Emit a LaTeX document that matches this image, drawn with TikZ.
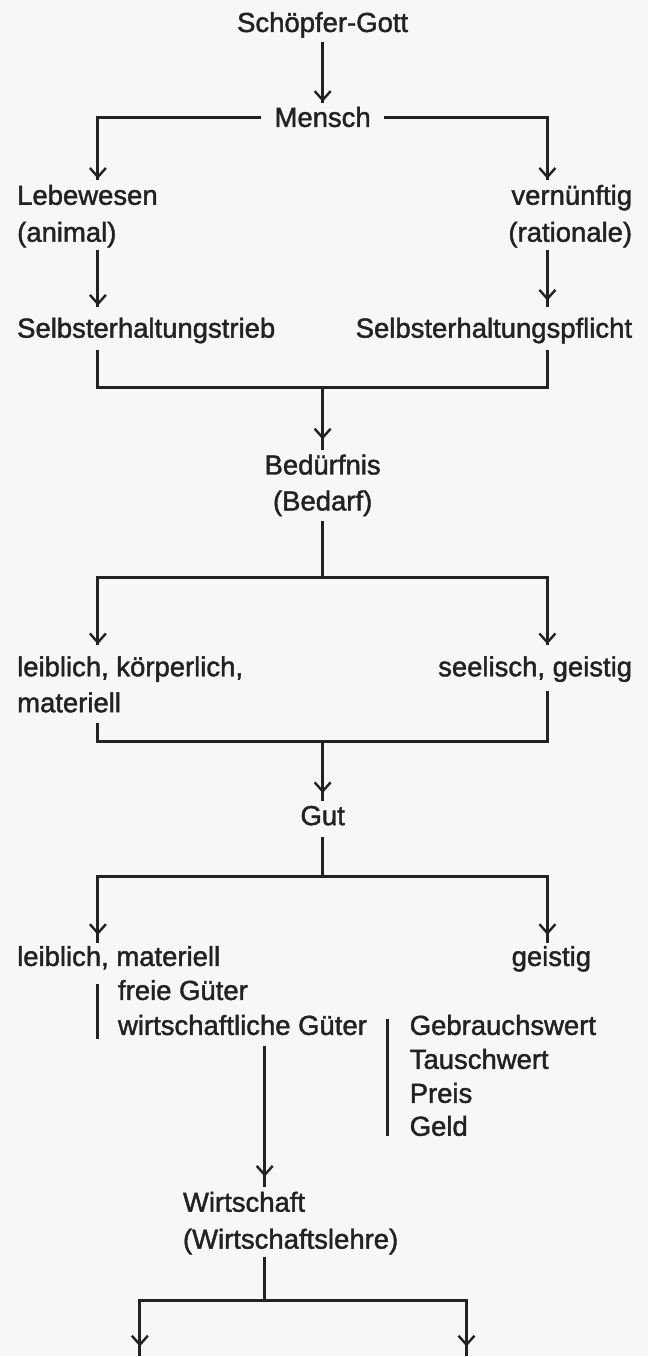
\documentclass[tikz,border=0pt]{standalone}
\usepackage{fontspec}
\setmainfont{Liberation Sans}[BoldFont={Liberation Sans}, BoldFeatures={FakeBold=1.6}]
\usetikzlibrary{arrows.meta,decorations.markings}
\definecolor{ink}{RGB}{34,34,34}
\definecolor{paper}{RGB}{247,247,245}
\begin{document}
\begin{tikzpicture}[x=1pt,y=-1pt,
  lbl/.style={inner sep=0pt, text=ink, font=\fontsize{27.5}{36}\selectfont\bfseries},
  ln/.style={color=ink, line width=3pt},
  arr/.style={ln, postaction={decorate},
    decoration={markings, mark=at position -#1 with {\arrow[line width=2.4pt]{Straight Barb[length=9pt,width=16pt]}}}},
  arr/.default=6pt,
]
\path[fill=paper] (0,0) rectangle (649,1357);

% texts
\node[lbl,anchor=base] (gott) at (323,32) {Schöpfer-Gott};
\node[lbl,anchor=base] (mensch) at (323,127) {Mensch};
\node[lbl,anchor=base west] (lebe) at (17,205) {Lebewesen};
\node[lbl,anchor=base west] (animal) at (17,242) {(animal)};
\node[lbl,anchor=base east] (vern) at (633,205) {vernünftig};
\node[lbl,anchor=base east] (ratio) at (633,242) {(rationale)};
\node[lbl,anchor=base west] (trieb) at (17,338) {Selbsterhaltungstrieb};
\node[lbl,anchor=base east] (pflicht) at (633,338) {Selbsterhaltungspflicht};
\node[lbl,anchor=base] (bed) at (323,475) {Bedürfnis};
\node[lbl,anchor=base] (bedarf) at (323,511) {(Bedarf)};
\node[lbl,anchor=base west] (leib) at (17,677) {leiblich, körperlich,};
\node[lbl,anchor=base west] (mat) at (17,713) {materiell};
\node[lbl,anchor=base east] (seel) at (633,677) {seelisch, geistig};
\node[lbl,anchor=base] (gut) at (323,826) {Gut};
\node[lbl,anchor=base west] (leibmat) at (17,967) {leiblich, materiell};
\node[lbl,anchor=base] (geistig) at (552,967) {geistig};
\node[lbl,anchor=base west] (freie) at (118,1001) {freie Güter};
\node[lbl,anchor=base west] (wgueter) at (118,1036) {wirtschaftliche Güter};
\node[lbl,anchor=base west] (gebr) at (410,1036) {Gebrauchswert};
\node[lbl,anchor=base west] (tausch) at (410,1070) {Tauschwert};
\node[lbl,anchor=base west] (preis) at (410,1104) {Preis};
\node[lbl,anchor=base west] (geld) at (410,1137) {Geld};
\node[lbl,anchor=base west] (wirt) at (183,1213) {Wirtschaft};
\node[lbl,anchor=base west] (wlehre) at (183,1250) {(Wirtschaftslehre)};

% connector end points
\coordinate (g1) at (323,42);  \coordinate (g2) at (323,103);
\coordinate (mL) at (98,180);  \coordinate (mR) at (548,180);
\coordinate (aL1) at (98,250); \coordinate (aL2) at (98,307);
\coordinate (aR1) at (548,250);\coordinate (aR2) at (548,307);
\coordinate (sL) at (98,350);  \coordinate (sR) at (548,350);
\coordinate (sJ) at (323,388); \coordinate (sE) at (323,450);
\coordinate (bT) at (323,522); \coordinate (bJ) at (323,578);
\coordinate (bL) at (98,646);  \coordinate (bR) at (548,646);
\coordinate (lL) at (98,724);  \coordinate (lR) at (548,692);
\coordinate (lJ) at (323,742); \coordinate (lE) at (323,802);
\coordinate (gT) at (323,838); \coordinate (gJ) at (323,877);
\coordinate (gL) at (98,944);  \coordinate (gR) at (548,944);
\coordinate (k1) at (98,985);  \coordinate (k2) at (98,1040);
\coordinate (p1) at (388,1020);\coordinate (p2) at (388,1137);
\coordinate (w1) at (265,1047);\coordinate (w2) at (265,1188);
\coordinate (wT) at (265,1258);\coordinate (wJ) at (265,1302);
\coordinate (eL) at (140,1357);\coordinate (eR) at (467,1357);

% connectors
\draw[arr=1pt] (g1) -- (g2);
\draw[arr=1pt] ([xshift=-13pt]mensch.west) -| (mL);
\draw[arr=1pt] ([xshift=13pt]mensch.east) -| (mR);
\draw[arr=1pt] (aL1) -- (aL2);
\draw[arr=6pt] (aR1) -- (aR2);
\draw[ln] (sL) |- (sJ) -| (sR);
\draw[arr=10pt] (sJ) -- (sE);
\draw[ln] (bT) -- (bJ);
\draw[arr=1pt] (bJ) -| (bL);
\draw[arr=1pt] (bJ) -| (bR);
\draw[ln] (lL) |- (lJ) -| (lR);
\draw[arr=8pt] (lJ) -- (lE);
\draw[ln] (gT) -- (gJ);
\draw[arr=8pt] (gJ) -| (gL);
\draw[arr=8pt] (gJ) -| (gR);
\draw[ln] (k1) -- (k2);
\draw[ln] (p1) -- (p2);
\draw[arr=10pt] (w1) -- (w2);
\draw[ln] (wT) -- (wJ);
\draw[arr=9pt] (wJ) -| (eL);
\draw[arr=9pt] (wJ) -| (eR);
\end{tikzpicture}
\end{document}
